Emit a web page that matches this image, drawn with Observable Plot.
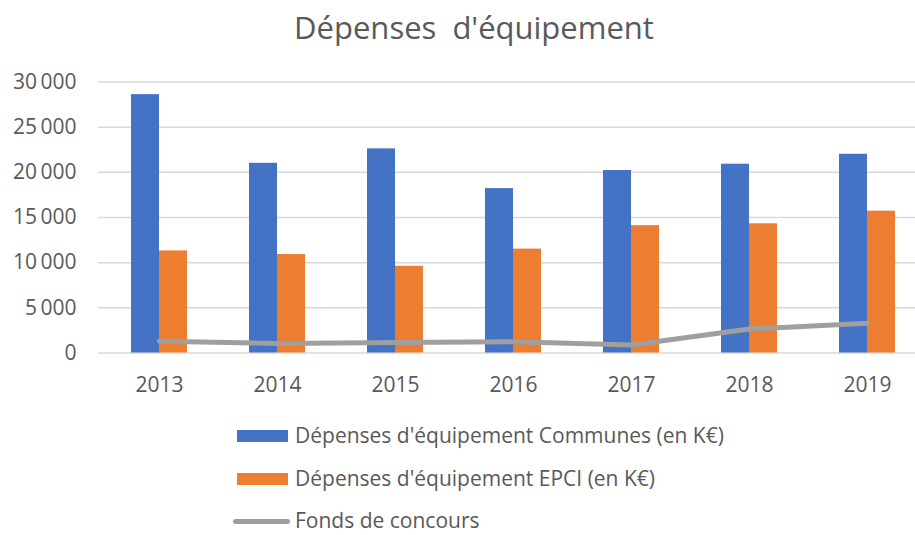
<!DOCTYPE html>
<html>
<head>
<meta charset="utf-8">
<script src="https://cdn.jsdelivr.net/npm/d3@7"></script>
<script src="https://cdn.jsdelivr.net/npm/@observablehq/plot@0.6"></script>
<style>
  html, body { margin: 0; padding: 0; background: #fff; }
  body { width: 915px; height: 535px; position: relative; overflow: hidden; font-family: "Open Sans", sans-serif; color: #595959; }
  #title { position: absolute; left: 0; width: 948px; top: 9px; line-height: 36px; font-size: 31px; text-align: center; word-spacing: 8px; white-space: nowrap; }
  #chart { position: absolute; left: 0; top: 60px; }
  .lg-text { position: absolute; font-size: 21px; line-height: 16px; white-space: nowrap; }
  .lg-sw { position: absolute; }
</style>
</head>
<body>
<div id="title">Dépenses d'équipement</div>
<div id="chart"></div>
<div id="legend"></div>
<script>
const years = ["2013", "2014", "2015", "2016", "2017", "2018", "2019"];
const communes = [28600, 21000, 22600, 18200, 20200, 20900, 22000];
const epci = [11300, 10900, 9600, 11500, 14100, 14300, 15700];
const fonds = [1300, 1050, 1170, 1250, 880, 2650, 3300];
const yTicks = [0, 5000, 10000, 15000, 20000, 25000, 30000];
const seriesNames = [
  "Dépenses d'équipement Communes (en K€)",
  "Dépenses d'équipement EPCI (en K€)",
  "Fonds de concours"
];
const colors = ["#4472C4", "#ED7D31", "#A5A5A5"];

const rows = years.map((y, i) => ({year: y, communes: communes[i], epci: epci[i], fonds: fonds[i]}));

const fmt = d => d3.format(",")(d).replace(/,/g, "\u2009");

const barW = 28;
const step = 118.5;
const x0 = 97.75;

const chart = Plot.plot({
  width: 915,
  height: 345,
  marginTop: 21.5,
  marginBottom: 52.5,
  marginLeft: 98,
  marginRight: 0,
  style: {fontFamily: "Open Sans, sans-serif", fontSize: "21px", color: "#595959", background: "transparent", overflow: "visible"},
  x: {
    type: "band",
    domain: years,
    range: [x0, x0 + step * years.length],
    paddingInner: 1 - barW / step,
    paddingOuter: (1 - barW / step) / 2,
    tickSize: 0,
    tickPadding: 24,
    label: null
  },
  y: {
    domain: [0, 30000],
    ticks: yTicks,
    tickFormat: fmt,
    tickSize: 0,
    tickPadding: 22,
    label: null
  },
  marks: [
    Plot.ruleY(yTicks, {stroke: "#d9d9d9", strokeWidth: 1.5}),
    Plot.barY(rows, {x: "year", y: "communes", fill: colors[0], dx: -barW / 2}),
    Plot.barY(rows, {x: "year", y: "epci", fill: colors[1], dx: barW / 2}),
    Plot.line(rows, {x: "year", y: "fonds", stroke: "#9f9f9f", strokeWidth: 5, strokeLinecap: "round", strokeLinejoin: "round"})
  ]
});
document.getElementById("chart").appendChild(chart);

// Legend
const legend = document.getElementById("legend");
const rowsY = [436, 478.5, 521];
seriesNames.forEach((name, i) => {
  const sw = document.createElement("div");
  sw.className = "lg-sw";
  if (i < 2) {
    sw.style.left = "237px"; sw.style.width = "51px";
    sw.style.top = (rowsY[i] - 6) + "px"; sw.style.height = "12px";
    sw.style.background = colors[i];
  } else {
    sw.style.left = "233px"; sw.style.width = "57px";
    sw.style.top = (rowsY[i] - 2.5) + "px"; sw.style.height = "5px";
    sw.style.borderRadius = "3px";
    sw.style.background = "#9f9f9f";
  }
  legend.appendChild(sw);
  const t = document.createElement("div");
  t.className = "lg-text";
  t.style.left = "295px";
  t.style.top = (rowsY[i] - 8.65) + "px";
  t.textContent = name;
  legend.appendChild(t);
});
</script>
</body>
</html>
